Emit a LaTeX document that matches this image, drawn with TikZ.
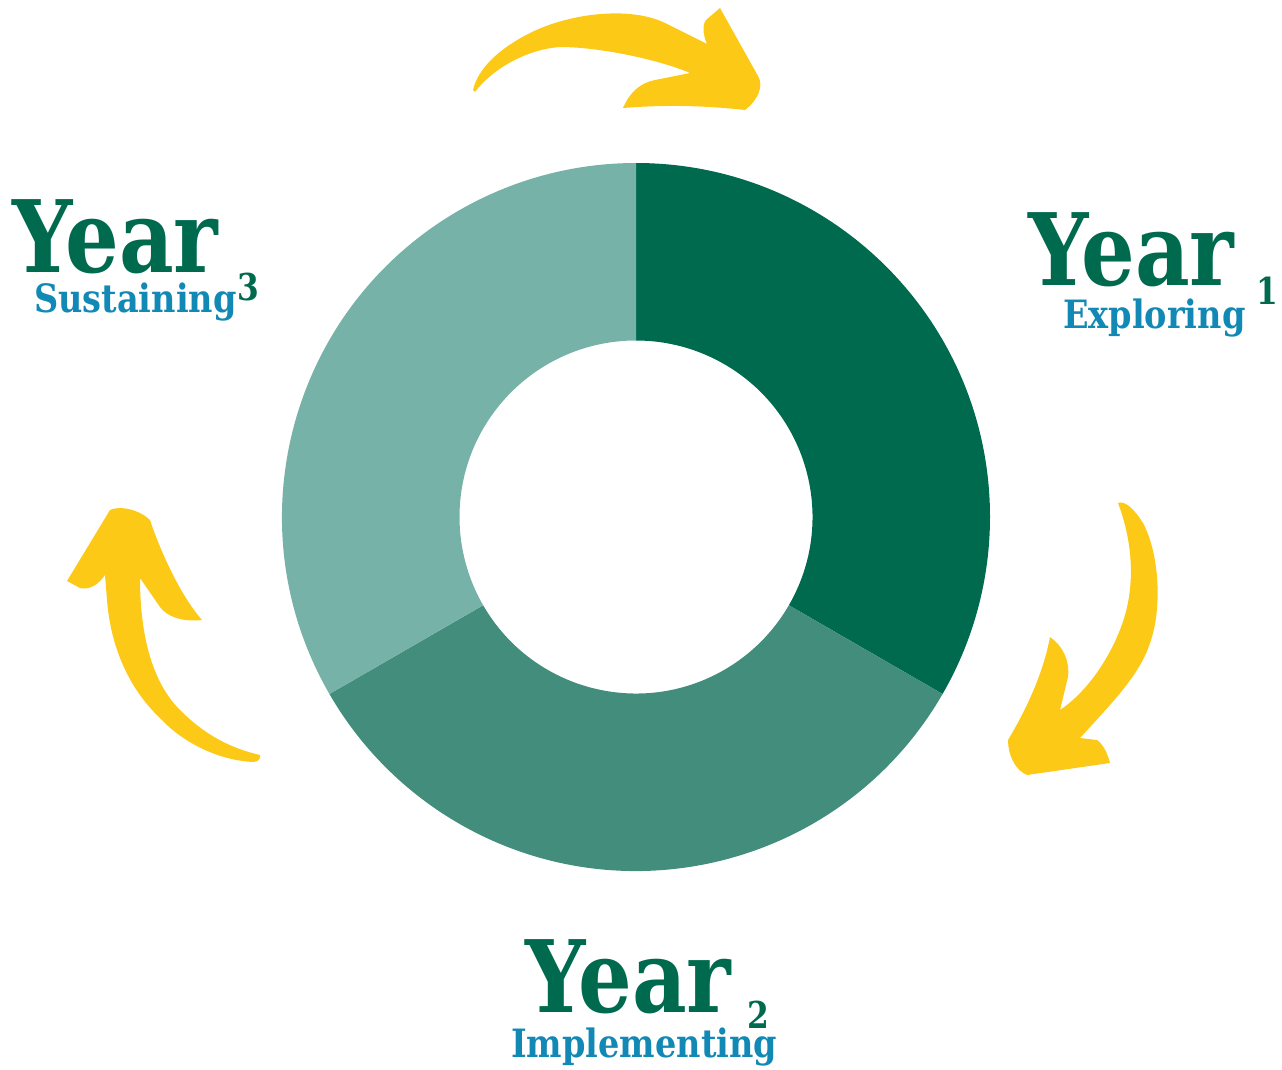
\documentclass[tikz,border=0pt]{standalone}
\usepackage{fontspec}
\newfontfamily\yearfont[FakeStretch=0.845]{DejaVu Serif}
\newfontfamily\phasefont[FakeStretch=0.86]{DejaVu Serif}

\definecolor{ringdark}{HTML}{006A4F}
\definecolor{ringmid}{HTML}{438D7D}
\definecolor{ringlight}{HTML}{76B2A8}
\definecolor{phaseblue}{HTML}{1289B5}
\definecolor{arrowyellow}{HTML}{FCC917}

\tikzstyle{year}=[inner sep=0pt,anchor=base west,text=ringdark,font=\yearfont\bfseries\fontsize{100}{100}\selectfont]
\tikzstyle{yearnum}=[inner sep=0pt,anchor=base west,text=ringdark,font=\yearfont\bfseries\fontsize{37}{37}\selectfont]
\tikzstyle{phase}=[inner sep=0pt,anchor=base west,text=phaseblue,font=\phasefont\bfseries\fontsize{39}{39}\selectfont]
\tikzstyle{sweep}=[fill=arrowyellow]

\begin{document}
\begin{tikzpicture}[x=1pt,y=-1pt]
\useasboundingbox (0,0) rectangle (1282,1070);

% ring
\begin{scope}[shift={(636,517)}]
   \coordinate (c) at (0,0);
   \fill[ringdark] (-90:354) arc[start angle=-90,end angle=30,radius=354]
-- (30:176.5) arc[start angle=30,end angle=-90,radius=176.5] -- cycle;
   \fill[ringmid] (30:354) arc[start angle=30,end angle=150,radius=354]
-- (150:176.5) arc[start angle=150,end angle=30,radius=176.5] -- cycle;
   \fill[ringlight] (150:354) arc[start angle=150,end angle=270,radius=354]
-- (270:176.5) arc[start angle=270,end angle=150,radius=176.5] -- cycle;
\end{scope}

% arrows
\fill[sweep] (473,90) .. controls (478,68) and (500,48) .. (530,33)
.. controls (570,13) and (630,6) .. (665,23) -- (707,44)
.. controls (703,35) and (702,25) .. (706,20) -- (720,8) -- (758,76)
.. controls (764,86) and (758,100) .. (745,110)
.. controls (700,105) and (660,105) .. (623,108)
.. controls (630,92) and (640,83) .. (655,80) -- (690,73)
.. controls (660,60) and (600,47) .. (560,47)
.. controls (530,49) and (495,66) .. (475,92) -- cycle;

\fill[sweep] (1118,503) .. controls (1125,500) and (1135,510) .. (1143,523)
.. controls (1160,555) and (1162,610) .. (1150,643)
.. controls (1140,675) and (1110,705) .. (1080,738) -- (1097,740)
.. controls (1104,745) and (1108,755) .. (1110,763) -- (1027,775)
.. controls (1015,770) and (1008,755) .. (1008,740)
.. controls (1020,720) and (1042,680) .. (1050,637)
.. controls (1062,645) and (1070,660) .. (1068,677) -- (1060,710)
.. controls (1090,690) and (1115,650) .. (1125,615)
.. controls (1135,580) and (1132,540) .. (1118,503) -- cycle;

\fill[sweep] (110,510) .. controls (120,505) and (140,510) .. (150,520)
.. controls (160,550) and (180,595) .. (202,620)
.. controls (185,622) and (168,618) .. (160,607) -- (140,578)
.. controls (140,630) and (150,680) .. (180,710)
.. controls (205,735) and (230,748) .. (260,755)
.. controls (261,759) and (258,762) .. (253,762)
.. controls (215,760) and (180,740) .. (160,718)
.. controls (125,685) and (110,640) .. (107,600) -- (105,575)
.. controls (98,585) and (90,590) .. (80,588) -- (67,581) -- cycle;

% labels
\node[year] (y1) at (1028,285) {Year};
\node[yearnum] (n1) at (1256,304) {1};
\node[phase] (p1) at (1063,328) {Exploring};

\node[year] (y2) at (525,1012) {Year};
\node[yearnum] (n2) at (747,1028) {2};
\node[phase] (p2) at (511,1057) {Implementing};

\node[year] (y3) at (12,272) {Year};
\node[yearnum] (n3) at (237,300) {3};
\node[phase] (p3) at (34,312) {Sustaining};
\end{tikzpicture}
\end{document}
